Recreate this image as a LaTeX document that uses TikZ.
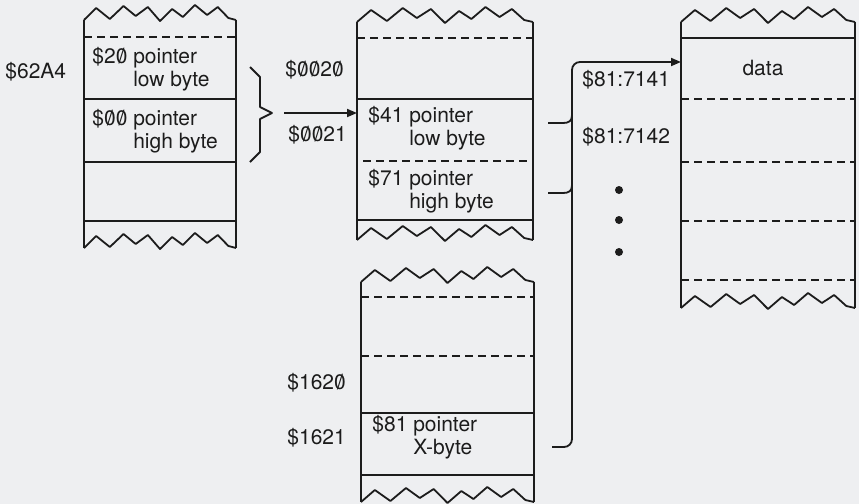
\documentclass[tikz,border=0pt]{standalone}
\usepackage{fontspec}
\setmainfont{TeX Gyre Heros}
\usetikzlibrary{arrows.meta,positioning}
\definecolor{paper}{HTML}{EEEFF1}
\definecolor{ink}{HTML}{1C1C1C}
% slashed zero as printed in the listing
\newcommand{\slz}{\ooalign{0\cr\hidewidth/\hidewidth\cr}}
% torn edge of a memory strip, from x #1 to x #2 at height #3
\newcommand{\tornedge}[3]{%
  \draw[edge] (#1,#3) \foreach \f/\d in {.08/-12,.17/-1,.26/-14,.34/-4,.42/-13,.50/1,.58/-11,.65/-3,.73/-15,.81/-5,.88/-13,.95/-2,1/0}
    { -- ({#1+\f*(#2-#1)},{#3+\d}) };}

\begin{document}
\begin{tikzpicture}[x=0.5pt,y=-0.5pt,font=\fontsize{10.5}{11.5}\selectfont,
  edge/.style={ink,line width=0.9pt,line join=round},
  sep/.style={ink,line width=0.8pt},
  dsep/.style={ink,line width=0.7pt,dash pattern=on 4pt off 2.5pt},
  lbl/.style={anchor=west,inner sep=0pt,text=ink,align=left},
  tip/.style={-{Triangle[length=5pt,width=4pt]}}]
  \fill[paper] (0,0) rectangle (859,504);
  \useasboundingbox (0,0) rectangle (859,504);

  \def\lA{84}  \def\rA{236}
  \def\lB{357} \def\rB{533}
  \def\lC{361} \def\rC{534}
  \def\lD{681} \def\rD{855}

  % direct page strip
  \draw[edge] (\lA,20) -- (\lA,248);
  \draw[edge] (\rA,20) -- (\rA,248);
  \tornedge{\lA}{\rA}{20}
  \tornedge{\lA}{\rA}{248}
  \draw[dsep] (\lA,37) -- (\rA,37);
  \foreach \y in {99,162,221} \draw[sep] (\lA,\y) -- (\rA,\y);
  \node[lbl] (adrA) at (5,72) {\$62A4};
  \node[lbl] (lowA) at (92,69.5) {\$2\slz{} pointer\\\hphantom{\$2\slz{} }low byte};
  \node[lbl] (highA) at (92,131) {\$\slz\slz{} pointer\\\hphantom{\$\slz\slz{} }high byte};

  % pointer strip
  \draw[edge] (\lB,22) -- (\lB,240);
  \draw[edge] (\rB,22) -- (\rB,240);
  \tornedge{\lB}{\rB}{22}
  \tornedge{\lB}{\rB}{240}
  \draw[dsep] (\lB,38) -- (\rB,38);
  \draw[sep] (\lB,99) -- (\rB,99);
  \draw[dsep] (363,161) -- (\rB,161);
  \draw[sep] (\lB,220) -- (\rB,220);
  \node[lbl] (adrB) at (285,70) {\$\slz\slz2\slz};
  \node[lbl] (adrC) at (288,135) {\$\slz\slz21};
  \node[lbl] (lowB) at (368,128.5) {\$41 pointer\\\hphantom{\$41 }low byte};
  \node[lbl] (highB) at (368,191) {\$71 pointer\\\hphantom{\$71 }high byte};

  % bank byte strip
  \draw[edge] (\lC,282) -- (\lC,502);
  \draw[edge] (\rC,282) -- (\rC,502);
  \tornedge{\lC}{\rC}{282}
  \tornedge{\lC}{\rC}{502}
  \foreach \y in {297,356} \draw[dsep] (\lC,\y) -- (\rC,\y);
  \foreach \y in {413,475} \draw[sep] (\lC,\y) -- (\rC,\y);
  \node[lbl] (adrD) at (287,383) {\$162\slz};
  \node[lbl] (adrE) at (287,438) {\$1621};
  \node[lbl] (bankC) at (372,437) {\$81 pointer\\\hphantom{\$81 }X-byte};

  % data strip
  \draw[edge] (\lD,22) -- (\lD,308);
  \draw[edge] (\rD,22) -- (\rD,308);
  \tornedge{\lD}{\rD}{22}
  \tornedge{\lD}{\rD}{308}
  \draw[sep] (\lD,38) -- (\rD,38);
  \foreach \y in {99,162,221,280} \draw[dsep] (\lD,\y) -- (\rD,\y);
  \node[inner sep=0pt,text=ink] (data) at (763,68) {data};
  \node[lbl] (adrF) at (582,80) {\$81:7141};
  \node[lbl] (adrG) at (582,137) {\$81:7142};
  \foreach \y in {190,220,252} \fill[ink] (619,\y) circle (2pt);

  % brace and arrow into the pointer
  \draw[edge] (250,67) -- (260,77) -- (260,107) -- (272,113) coordinate (bt)
    -- (260,119) -- (260,152) -- (250,162);
  \coordinate (ptrA) at (284,113);
  \coordinate (ptrB) at (\lB,113);
  \draw[edge,tip] (ptrA) -- (ptrB);

  % long bracket from the three pointer bytes to the data
  \coordinate (tkA) at (548,123);
  \coordinate (tkB) at (548,193);
  \coordinate (tkC) at (552,447);
  \coordinate (dataIn) at (\lD,62);
  \draw[edge,rounded corners=4pt,tip] (tkC) -- (572,447) -- (572,62) -- (dataIn);
  \draw[edge] (tkA) -- (563,123) .. controls (569,123) and (572,121) .. (572,115);
  \draw[edge] (tkB) -- (563,193) .. controls (569,193) and (572,191) .. (572,185);
\end{tikzpicture}
\end{document}
